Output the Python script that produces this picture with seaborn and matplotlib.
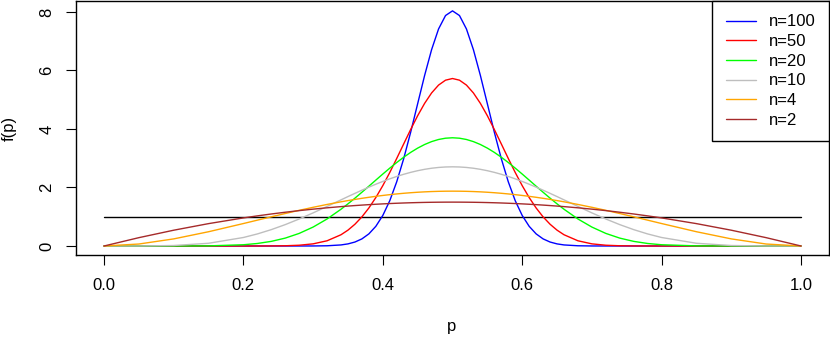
import matplotlib
matplotlib.use("Agg")
import matplotlib.pyplot as plt
import seaborn as sns
import pandas as pd

p = [0.0, 0.05, 0.10, 0.15, 0.20, 0.22, 0.24, 0.26, 0.28, 0.30, 0.32, 0.34, 0.35, 0.36, 0.37,
     0.38, 0.39, 0.40, 0.41, 0.42, 0.43, 0.44, 0.45, 0.46, 0.47, 0.48, 0.49, 0.50,
     0.51, 0.52, 0.53, 0.54, 0.55, 0.56, 0.57, 0.58, 0.59, 0.60, 0.61, 0.62, 0.63, 0.64,
     0.65, 0.66, 0.68, 0.70, 0.72, 0.74, 0.76, 0.78, 0.80, 0.85, 0.90, 0.95, 1.0]

f_n100 = [0, 0, 0, 0, 0, 0, 0.0000011, 0.0000165, 0.000171, 0.0013, 0.0078, 0.0363, 0.0720,
          0.1356, 0.2428, 0.4141, 0.6728, 1.0441, 1.5486, 2.1981, 2.9877, 3.8922, 4.8633,
          5.8311, 6.7121, 7.4200, 7.8793, 8.0385,
          7.8793, 7.4200, 6.7121, 5.8311, 4.8633, 3.8922, 2.9877, 2.1981, 1.5486, 1.0441,
          0.6728, 0.4141, 0.2428, 0.1356, 0.0720, 0.0363, 0.0078, 0.0013, 0.000171,
          0.0000165, 0.0000011, 0, 0, 0, 0, 0, 0]
f_n50 = [0, 0, 0, 0.0000003, 0.0000818, 0.00047, 0.00216, 0.00821, 0.0264, 0.0733, 0.1781,
         0.3845, 0.5418, 0.7437, 0.9952, 1.2996, 1.6566, 2.0637, 2.5133, 2.9942, 3.4909,
         3.9844, 4.4538, 4.8769, 5.2323, 5.5013, 5.6690, 5.7260,
         5.6690, 5.5013, 5.2323, 4.8769, 4.4538, 3.9844, 3.4909, 2.9942, 2.5133, 2.0637,
         1.6566, 1.2996, 0.9952, 0.7437, 0.5418, 0.3845, 0.1781, 0.0733, 0.0264, 0.00821,
         0.00216, 0.00047, 0.0000818, 0.0000003, 0, 0, 0]
f_n20 = [0, 0.0000002, 0.000135, 0.0044, 0.0427, 0.0859, 0.1581, 0.2697, 0.4302, 0.6472,
         0.9234, 1.2563, 1.4409, 1.6354, 1.8375, 2.0445, 2.2530, 2.4599, 2.6618, 2.8549,
         3.0356, 3.2005, 3.3463, 3.4700, 3.5690, 3.6414, 3.6853, 3.7001,
         3.6853, 3.6414, 3.5690, 3.4700, 3.3463, 3.2005, 3.0356, 2.8549, 2.6618, 2.4599,
         2.2530, 2.0445, 1.8375, 1.6354, 1.4409, 1.2563, 0.9234, 0.6472, 0.4302, 0.2697,
         0.1581, 0.0859, 0.0427, 0.0044, 0.000135, 0.0000002, 0]
f_n10 = [0, 0.00067, 0.0164, 0.0934, 0.2907, 0.4124, 0.5596, 0.7308, 0.9231, 1.1321, 1.3523,
         1.5773, 1.6893, 1.7997, 1.9077, 2.0122, 2.1124, 2.2072, 2.2960, 2.3778, 2.4519,
         2.5176, 2.5743, 2.6215, 2.6586, 2.6854, 2.7016, 2.7070,
         2.7016, 2.6854, 2.6586, 2.6215, 2.5743, 2.5176, 2.4519, 2.3778, 2.2960, 2.2072,
         2.1124, 2.0122, 1.9077, 1.7997, 1.6893, 1.5773, 1.3523, 1.1321, 0.9231, 0.7308,
         0.5596, 0.4124, 0.2907, 0.0934, 0.0164, 0.00067, 0]
f_n4 = [0, 0.0677, 0.2430, 0.4877, 0.7680, 0.8834, 0.9981, 1.1105, 1.2193, 1.3230, 1.4205,
        1.5107, 1.5527, 1.5925, 1.6301, 1.6652, 1.6979, 1.7280, 1.7555, 1.7802, 1.8022,
        1.8214, 1.8377, 1.8511, 1.8615, 1.8690, 1.8735, 1.8750,
        1.8735, 1.8690, 1.8615, 1.8511, 1.8377, 1.8214, 1.8022, 1.7802, 1.7555, 1.7280,
        1.6979, 1.6652, 1.6301, 1.5925, 1.5527, 1.5107, 1.4205, 1.3230, 1.2193, 1.1105,
        0.9981, 0.8834, 0.7680, 0.4877, 0.2430, 0.0677, 0]
f_n2 = [0, 0.285, 0.540, 0.765, 0.960, 1.0296, 1.0944, 1.1544, 1.2096, 1.2600, 1.3056,
        1.3464, 1.3650, 1.3824, 1.3986, 1.4136, 1.4274, 1.4400, 1.4514, 1.4616, 1.4706,
        1.4784, 1.4850, 1.4904, 1.4946, 1.4976, 1.4994, 1.5000,
        1.4994, 1.4976, 1.4946, 1.4904, 1.4850, 1.4784, 1.4706, 1.4616, 1.4514, 1.4400,
        1.4274, 1.4136, 1.3986, 1.3824, 1.3650, 1.3464, 1.3056, 1.2600, 1.2096, 1.1544,
        1.0944, 1.0296, 0.960, 0.765, 0.540, 0.285, 0]
p_flat = [0.0, 1.0]
f_flat = [1.0, 1.0]

labels = ["n=100", "n=50", "n=20", "n=10", "n=4", "n=2"]
colors = ["#0000FF", "#FF0000", "#00FF00", "#BEBEBE", "#FFA500", "#A52A2A"]
series = [f_n100, f_n50, f_n20, f_n10, f_n4, f_n2]
xticks = [0.0, 0.2, 0.4, 0.6, 0.8, 1.0]
xticklabels = ["0.0", "0.2", "0.4", "0.6", "0.8", "1.0"]
yticks = [0, 2, 4, 6, 8]

sns.set_style("white")
plt.rcParams["font.family"] = ["Liberation Sans", "DejaVu Sans"]
plt.rcParams["text.color"] = "black"
plt.rcParams["axes.labelcolor"] = "black"

fig = plt.figure(figsize=(8.3, 3.37), dpi=100)
ax = fig.add_axes([76 / 830, 1 - 255 / 337, 753 / 830, 254 / 337])

sns.lineplot(x=p_flat, y=f_flat, color="black", lw=1.0, ax=ax, legend=False)
for lab, col, vals in zip(labels, colors, series):
    df = pd.DataFrame({"p": p, "f": vals})
    sns.lineplot(data=df, x="p", y="f", color=col, lw=1.0, ax=ax, label=lab,
                 sort=False, estimator=None)

ax.set_xlim(-0.0402, 1.0402)
ax.set_ylim(-0.3077, 8.376)
ax.set_xticks(xticks)
ax.set_xticklabels(xticklabels)
ax.set_yticks(yticks)
for lbl in ax.get_yticklabels():
    lbl.set_rotation(90)
    lbl.set_va("center")
ax.tick_params(axis="both", direction="out", length=7.5, width=0.8, labelsize=12,
               colors="black", left=True, bottom=True)
ax.tick_params(axis="x", pad=9)
ax.tick_params(axis="y", pad=8)
for s in ax.spines.values():
    s.set_visible(True)
    s.set_color("black")
    s.set_linewidth(1.0)
ax.set_xlabel("p", fontsize=12)
ax.set_ylabel("f(p)", fontsize=12)
ax.xaxis.set_label_coords((452 - 76) / 753, -(326 - 255) / 254)
ax.xaxis.label.set_va("center")
ax.yaxis.set_label_coords(-(76 - 9) / 753, 0.5)
ax.yaxis.label.set_va("center")
ax.grid(False)

leg = ax.legend(loc="upper right", borderaxespad=0, fontsize=12, frameon=True,
                fancybox=False, handlelength=1.8, handletextpad=0.8, labelspacing=0.28,
                borderpad=0.8)
leg.get_frame().set_edgecolor("black")
leg.get_frame().set_linewidth(1.0)
leg.get_frame().set_alpha(1)

fig.savefig("out.png", dpi=100)
